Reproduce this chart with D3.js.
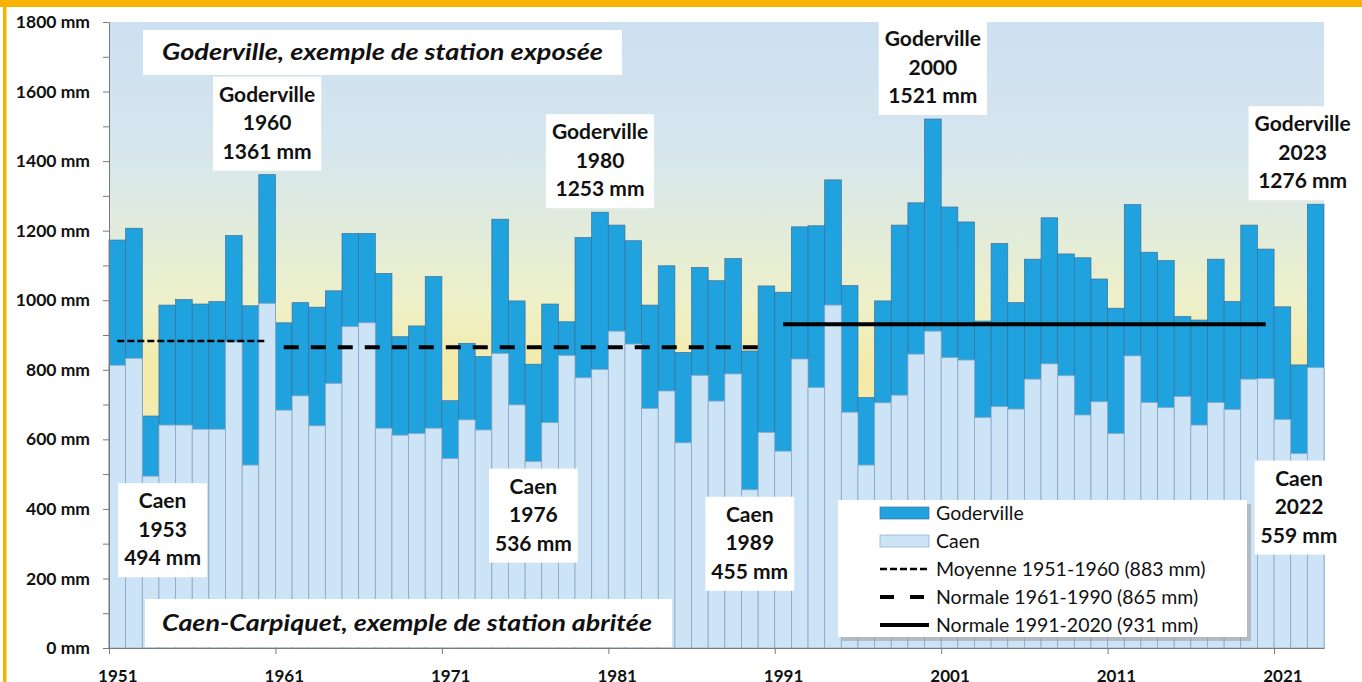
<!DOCTYPE html>
<html>
<head>
<meta charset="utf-8">
<script src="https://cdn.jsdelivr.net/npm/d3@7"></script>
<style>
  body { margin: 0; background: #fff; }
  svg { display: block; font-family: Lato, "Open Sans", sans-serif; }
</style>
</head>
<body>
<div id="chart"></div>
<script>
// yearly rainfall (mm)
const years = [1951, 1952, 1953, 1954, 1955, 1956, 1957, 1958, 1959, 1960,
    1961, 1962, 1963, 1964, 1965, 1966, 1967, 1968, 1969, 1970,
    1971, 1972, 1973, 1974, 1975, 1976, 1977, 1978, 1979, 1980,
    1981, 1982, 1983, 1984, 1985, 1986, 1987, 1988, 1989, 1990,
    1991, 1992, 1993, 1994, 1995, 1996, 1997, 1998, 1999, 2000,
    2001, 2002, 2003, 2004, 2005, 2006, 2007, 2008, 2009, 2010,
    2011, 2012, 2013, 2014, 2015, 2016, 2017, 2018, 2019, 2020,
    2021, 2022, 2023];
const goderville = [1173, 1207, 667, 986, 1002, 989, 996, 1186, 984, 1361,
    935, 993, 980, 1027, 1192, 1192, 1077, 895, 926, 1068,
    711, 876, 838, 1233, 998, 816, 989, 938, 1180, 1253,
    1216, 1171, 986, 1099, 850, 1094, 1056, 1120, 854, 1041,
    1023, 1211, 1214, 1346, 1042, 720, 998, 1216, 1280, 1521,
    1268, 1225, 940, 1163, 993, 1118, 1237, 1133, 1122, 1061,
    977, 1275, 1138, 1114, 953, 943, 1118, 996, 1216, 1147,
    981, 814, 1276];
const caen = [813, 833, 494, 641, 641, 629, 629, 880, 526, 991,
    684, 725, 639, 761, 924, 935, 632, 612, 617, 632,
    545, 656, 627, 847, 699, 536, 648, 841, 777, 801,
    911, 874, 689, 739, 590, 784, 710, 788, 455, 620,
    566, 831, 749, 986, 678, 526, 705, 727, 845, 911,
    835, 828, 663, 694, 687, 773, 817, 783, 670, 708,
    617, 840, 706, 691, 723, 641, 706, 686, 773, 775,
    657, 559, 806];

// reference lines
const refLabels = ["Moyenne 1951-1960 (883 mm)", "Normale 1961-1990 (865 mm)", "Normale 1991-2020 (931 mm)"];
const refFrom = [1951, 1961, 1991];
const refTo = [1960, 1990, 2020];
const refValues = [883, 865, 931];

// record labels
const recStation = ["Goderville", "Goderville", "Goderville", "Goderville", "Caen", "Caen", "Caen", "Caen"];
const recYear = [1960, 1980, 2000, 2023, 1953, 1976, 1989, 2022];
const recValue = [1361, 1253, 1521, 1276, 494, 536, 455, 559];

const yTicks = [0, 200, 400, 600, 800, 1000, 1200, 1400, 1600, 1800];
const xTicks = [1951, 1961, 1971, 1981, 1991, 2001, 2011, 2021];

const width = 1362, height = 682;
const margins = { top: 22, right: 38, bot: 34, left: 109 };

const svg = d3.select("#chart").append("svg")
    .attr("width", width)
    .attr("height", height);

const x = d3.scaleLinear()
    .domain([1951, 2024])
    .range([margins.left, width - margins.right]);
const y = d3.scaleLinear()
    .domain([0, 1800])
    .range([height - margins.bot, margins.top]);

// frame: orange strip on top and left
svg.append("rect").attr("x", 0).attr("y", 0).attr("width", width).attr("height", 7).attr("fill", "#f8b300");
svg.append("rect").attr("x", 3).attr("y", 0).attr("width", 3.5).attr("height", height).attr("fill", "#f8b300");

// plot background gradient
const grad = svg.append("defs").append("linearGradient")
    .attr("id", "bg")
    .attr("gradientUnits", "userSpaceOnUse")
    .attr("x1", 0).attr("x2", 0)
    .attr("y1", y(1800)).attr("y2", y(0));
[[0, "#cde0f1"], [0.2, "#d6e6ee"], [0.34, "#e2ecda"], [0.45, "#eef0c8"],
 [0.55, "#f4ebaa"], [1, "#f6eebb"]].forEach(function (s) {
    grad.append("stop").attr("offset", s[0]).attr("stop-color", s[1]);
});
svg.append("rect")
    .attr("x", x(1951)).attr("y", y(1800))
    .attr("width", x(2024) - x(1951))
    .attr("height", y(0) - y(1800))
    .attr("fill", "url(#bg)");

// bars: Goderville behind, Caen in front
const bw = x(1952) - x(1951);
svg.append("g").selectAll("rect")
    .data(years)
    .join("rect")
    .attr("x", (d) => x(d))
    .attr("width", bw)
    .attr("y", (d, i) => y(goderville[i]))
    .attr("height", (d, i) => y(0) - y(goderville[i]))
    .attr("fill", "#20a2df")
    .attr("stroke", "#3f6f98")
    .attr("stroke-width", 0.7);
svg.append("g").selectAll("rect")
    .data(years)
    .join("rect")
    .attr("x", (d) => x(d))
    .attr("width", bw)
    .attr("y", (d, i) => y(caen[i]))
    .attr("height", (d, i) => y(0) - y(caen[i]))
    .attr("fill", "#cde4f7")
    .attr("stroke", "#8aa8c6")
    .attr("stroke-width", 0.8);

// reference lines
const refStyle = [
    { w: 2.5, dash: "7,3" },
    { w: 4, dash: "15,12" },
    { w: 4, dash: null }
];
refValues.forEach(function (v, i) {
    svg.append("line")
        .attr("x1", x(refFrom[i]) + bw / 2)
        .attr("x2", x(refTo[i]) + bw / 2)
        .attr("y1", y(v)).attr("y2", y(v))
        .attr("stroke", "#000")
        .attr("stroke-width", refStyle[i].w)
        .attr("stroke-dasharray", refStyle[i].dash);
});

// record labels in white boxes
const recDx = [0, 0, 0, -13, 12, 0, 0, 0];
recValue.forEach(function (v, i) {
    let cx = x(recYear[i]) + bw / 2 + recDx[i];
    let top = recStation[i] == "Goderville" ? y(v) - 98 : y(v) + 7;
    let g = svg.append("g");
    let box = g.append("rect").attr("fill", "#fff");
    let lines = [recStation[i], String(recYear[i]), v + " mm"];
    let maxW = 0;
    lines.forEach(function (t, k) {
        let txt = g.append("text")
            .attr("x", cx)
            .attr("y", top + 25 + k * 28.5)
            .attr("text-anchor", "middle")
            .attr("font-size", 21)
            .attr("font-weight", "bold")
            .attr("fill", "#111")
            .text(t);
        maxW = Math.max(maxW, txt.node().getComputedTextLength());
    });
    box.attr("x", cx - maxW / 2 - 6).attr("y", top)
        .attr("width", maxW + 12).attr("height", 94);
});

// station captions
const captions = ["Goderville, exemple de station exposée", "Caen-Carpiquet, exemple de station abritée"];
const capBox = [[143, 30, 479, 45], [145, 599, 527, 48]];
const capBase = [60, 631];
const capLen = [441, 490];
captions.forEach(function (c, i) {
    svg.append("rect")
        .attr("x", capBox[i][0]).attr("y", capBox[i][1])
        .attr("width", capBox[i][2]).attr("height", capBox[i][3])
        .attr("fill", "#fff");
    svg.append("text")
        .attr("x", 162).attr("y", capBase[i])
        .attr("font-size", 22.5)
        .attr("font-weight", "bold")
        .attr("font-style", "italic")
        .attr("textLength", capLen[i])
        .attr("lengthAdjust", "spacingAndGlyphs")
        .attr("fill", "#111")
        .text(c);
});

// legend
const lg = svg.append("g").attr("transform", "translate(838,500)");
lg.append("rect").attr("x", 4).attr("y", 4).attr("width", 409).attr("height", 137).attr("fill", "#a0a0a0").attr("opacity", 0.6);
lg.append("rect").attr("x", 0).attr("y", 0).attr("width", 409).attr("height", 137).attr("fill", "#fff");
const legLabels = ["Goderville", "Caen"].concat(refLabels);
legLabels.forEach(function (t, i) {
    let cy = 13 + i * 28;
    if (i == 0 || i == 1) {
        lg.append("rect")
            .attr("x", 42).attr("y", cy - 6)
            .attr("width", 49).attr("height", 12)
            .attr("fill", i == 0 ? "#20a2df" : "#cde4f7")
            .attr("stroke", i == 0 ? "#3f6f98" : "#8aa8c6")
            .attr("stroke-width", 0.7);
    } else if (i == 3) {
        [42, 72].forEach(function (sx) {
            lg.append("line")
                .attr("x1", sx).attr("x2", sx + 14)
                .attr("y1", cy).attr("y2", cy)
                .attr("stroke", "#000").attr("stroke-width", 4);
        });
    } else {
        lg.append("line")
            .attr("x1", 42).attr("x2", 91)
            .attr("y1", cy).attr("y2", cy)
            .attr("stroke", "#000")
            .attr("stroke-width", refStyle[i - 2].w)
            .attr("stroke-dasharray", refStyle[i - 2].dash);
    }
    lg.append("text")
        .attr("x", 98).attr("y", cy + 6.5)
        .attr("font-size", 19.5)
        .attr("fill", "#111")
        .text(t);
});

// axes
const yAxis = svg.append("g")
    .attr("transform", "translate(" + margins.left + ",0)")
    .call(d3.axisLeft(y)
        .tickValues(d3.range(0, 1801, 100))
        .tickSize(6)
        .tickSizeOuter(0)
        .tickPadding(13)
        .tickFormat((d) => yTicks.includes(d) ? d + " mm" : ""));
yAxis.select(".domain").attr("stroke", "#7a7a7a");
yAxis.selectAll(".tick line").attr("stroke", "#7a7a7a");
yAxis.selectAll("text")
    .attr("font-family", "Lato, sans-serif")
    .attr("font-size", 17.5)
    .attr("font-weight", "bold")
    .attr("fill", "#111");

const xAxis = svg.append("g")
    .attr("transform", "translate(0," + y(0) + ")")
    .call(d3.axisBottom(x)
        .tickValues(xTicks)
        .tickSize(6)
        .tickSizeOuter(0)
        .tickPadding(16)
        .tickFormat(d3.format("d")));
xAxis.select(".domain").attr("stroke", "#7a7a7a");
xAxis.selectAll(".tick line").attr("stroke", "#7a7a7a");
xAxis.selectAll("text")
    .attr("dx", bw / 2)
    .attr("font-family", "Lato, sans-serif")
    .attr("font-size", 17)
    .attr("font-weight", "bold")
    .attr("fill", "#111");
</script>
</body>
</html>
